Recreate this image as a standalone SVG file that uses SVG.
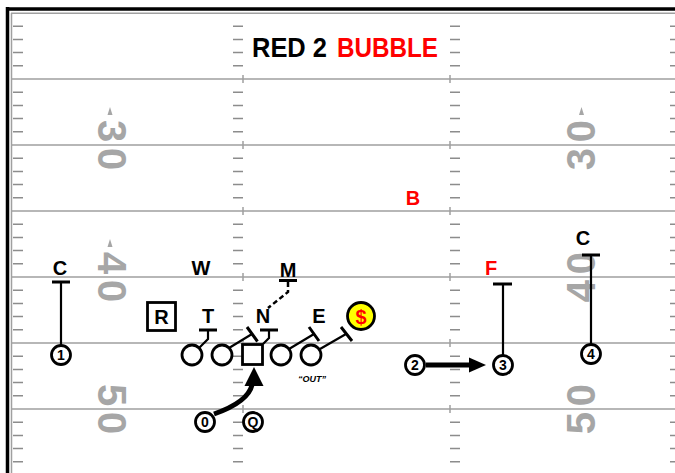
<svg xmlns="http://www.w3.org/2000/svg" xmlns:xlink="http://www.w3.org/1999/xlink" width="675" height="473" viewBox="0 0 675 473">
<style>
.yl{stroke:#a0a0a0;stroke-width:1.5;fill:none}
.hm{stroke:#8c8c8c;stroke-width:1.5;fill:none}
.num{font-family:"Liberation Sans",Arial,sans-serif;font-weight:bold;font-size:40px;fill:#a6a6a6;text-anchor:middle}
.lbl{font-family:"Liberation Sans",Arial,sans-serif;font-weight:bold;font-size:20px;text-anchor:middle;fill:#000}
.red{fill:#ff0000}
.dig{font-family:"Liberation Sans",Arial,sans-serif;font-weight:bold;font-size:14px;text-anchor:middle;fill:#000}
.pl{fill:#fff;stroke:#000;stroke-width:2.8}
.ln{stroke:#000;stroke-width:2.2;fill:none}
.bar{stroke:#000;stroke-width:3;fill:none}
.arr{stroke:#000;stroke-width:5;fill:none}
</style>
<defs>
<path id="ticks" d="M0 26.2h10M0 39.4h10M0 52.6h10M0 65.8h10M0 92.2h10M0 105.4h10M0 118.6h10M0 131.8h10M0 158.2h10M0 171.4h10M0 184.6h10M0 197.8h10M0 224.2h10M0 237.4h10M0 250.6h10M0 263.8h10M0 290.2h10M0 303.4h10M0 316.6h10M0 329.8h10M0 356.2h10M0 369.4h10M0 382.6h10M0 395.8h10M0 422.2h10M0 435.4h10M0 448.6h10M0 461.8h10"/>
</defs>
<rect width="675" height="473" fill="#fff"/>
<g id="field">
<path class="yl" d="M11 79H675M11 145H675M11 211H675M11 277H675M11 343H675M11 409H675"/>
<path class="yl" d="M243 75v8M450 75v8M243 141v8M450 141v8M243 207v8M450 207v8M243 273v8M450 273v8M243 339v8M450 339v8M243 405v8M450 405v8"/>
<use xlink:href="#ticks" href="#ticks" class="hm" x="13"/>
<use xlink:href="#ticks" href="#ticks" class="hm" x="233"/>
<use xlink:href="#ticks" href="#ticks" class="hm" x="450"/>
<use xlink:href="#ticks" href="#ticks" class="hm" x="670"/>
<path d="M11.5 13V473M11 13.3H675" stroke="#a0a0a0" stroke-width="1.5" fill="none"/>
<path d="M7.5 7V473M6 9H675" stroke="#000" stroke-width="3.5" fill="none"/>
<g id="numbers">
<g transform="translate(112.5,145) rotate(90)"><text class="num" x="-14" y="14.3">3</text><text class="num" x="14" y="14.3">0</text></g>
<g transform="translate(112.5,277) rotate(90)"><text class="num" x="-14" y="14.3">4</text><text class="num" x="14" y="14.3">0</text></g>
<g transform="translate(112.5,409) rotate(90)"><text class="num" x="-14" y="14.3">5</text><text class="num" x="14" y="14.3">0</text></g>
<g transform="translate(581,145) rotate(-90)"><text class="num" x="-14" y="14.3">3</text><text class="num" x="14" y="14.3">0</text></g>
<g transform="translate(581,277) rotate(-90)"><text class="num" x="-14" y="14.3">4</text><text class="num" x="14" y="14.3">0</text></g>
<g transform="translate(581,409) rotate(-90)"><text class="num" x="-14" y="14.3">5</text><text class="num" x="14" y="14.3">0</text></g>
<path d="M110 107L112.5 115H107.5ZM110 239L112.5 247H107.5ZM581.5 107L584 115H579Z" fill="#a6a6a6"/>
</g>
</g>
<g id="title">
<text x="252" y="57" font-family="Liberation Sans,Arial,sans-serif" font-weight="bold" font-size="28" fill="#000" textLength="75" lengthAdjust="spacingAndGlyphs">RED 2</text>
<text x="337" y="57" font-family="Liberation Sans,Arial,sans-serif" font-weight="bold" font-size="28" fill="#ff0000" textLength="101" lengthAdjust="spacingAndGlyphs">BUBBLE</text>
</g>
<g id="connectors">
<path class="ln" d="M61 345V282M503 355V284M591 344V255"/>
<path class="bar" d="M52 282H70M493 284H512M582 255H600"/>
<path class="ln" d="M199 348L208 339V330M229 348L252 334M263 344L269 338V330M289 349L314 334M320 349L346 334"/>
<path class="bar" d="M199 330H217M247 327L257.5 341.5M260 330H278M309 327L319 341M341 327L352 341"/>
<path class="bar" d="M279 280.5H297"/>
<path d="M288 282V292L268 308" stroke="#000" stroke-width="2.5" fill="none" stroke-dasharray="5,3"/>
<path class="arr" d="M426 365H472"/>
<path d="M469 357.5L486 365L469 372.5Z" fill="#000"/>
<path class="arr" d="M214 414Q248 402 252 385"/>
<path d="M254 367L263.5 386L244.5 386Z" fill="#000"/>
</g>
<g id="n-c1"><text class="lbl" x="60" y="275">C</text></g>
<g id="n-w"><text class="lbl" x="201" y="275">W</text></g>
<g id="n-m"><text class="lbl" x="288" y="277">M</text></g>
<g id="n-b"><text class="lbl red" x="413" y="205">B</text></g>
<g id="n-f"><text class="lbl red" x="491" y="275">F</text></g>
<g id="n-c2"><text class="lbl" x="583" y="245">C</text></g>
<g id="n-r"><rect x="147.5" y="302.5" width="28" height="28" class="pl"/><text class="lbl" x="161.5" y="324">R</text></g>
<g id="n-t"><text class="lbl" x="208" y="323">T</text></g>
<g id="n-n"><text class="lbl" x="263" y="323">N</text></g>
<g id="n-e"><text class="lbl" x="319" y="323">E</text></g>
<g id="n-s"><circle cx="361" cy="316" r="13.5" fill="#ffff00" stroke="#000" stroke-width="2.8"/><text class="lbl red" x="361" y="323.5" font-size="22">$</text></g>
<g id="n-lt"><circle cx="192" cy="355" r="10" class="pl"/></g>
<g id="n-lg"><circle cx="222" cy="355" r="10" class="pl"/></g>
<g id="n-ctr"><rect x="242.5" y="344.5" width="20" height="20" class="pl"/></g>
<g id="n-rg"><circle cx="281" cy="355" r="10" class="pl"/></g>
<g id="n-rt"><circle cx="311" cy="355" r="10" class="pl"/></g>
<g id="n-out"><text x="312" y="382" font-family="Liberation Sans,Arial,sans-serif" font-weight="bold" font-style="italic" font-size="9" text-anchor="middle">“OUT”</text></g>
<g id="n-1"><circle cx="61" cy="355" r="9.5" class="pl"/><text class="dig" x="61" y="360">1</text></g>
<g id="n-2"><circle cx="415" cy="365" r="9.5" class="pl"/><text class="dig" x="415" y="370">2</text></g>
<g id="n-3"><circle cx="503" cy="365" r="9.5" class="pl"/><text class="dig" x="503" y="370">3</text></g>
<g id="n-4"><circle cx="591" cy="354" r="9.5" class="pl"/><text class="dig" x="591" y="359">4</text></g>
<g id="n-0"><circle cx="205" cy="422" r="9.5" class="pl"/><text class="dig" x="205" y="427">0</text></g>
<g id="n-q"><circle cx="253" cy="422" r="9.5" class="pl"/><text class="dig" x="253" y="427">Q</text></g>
</svg>
